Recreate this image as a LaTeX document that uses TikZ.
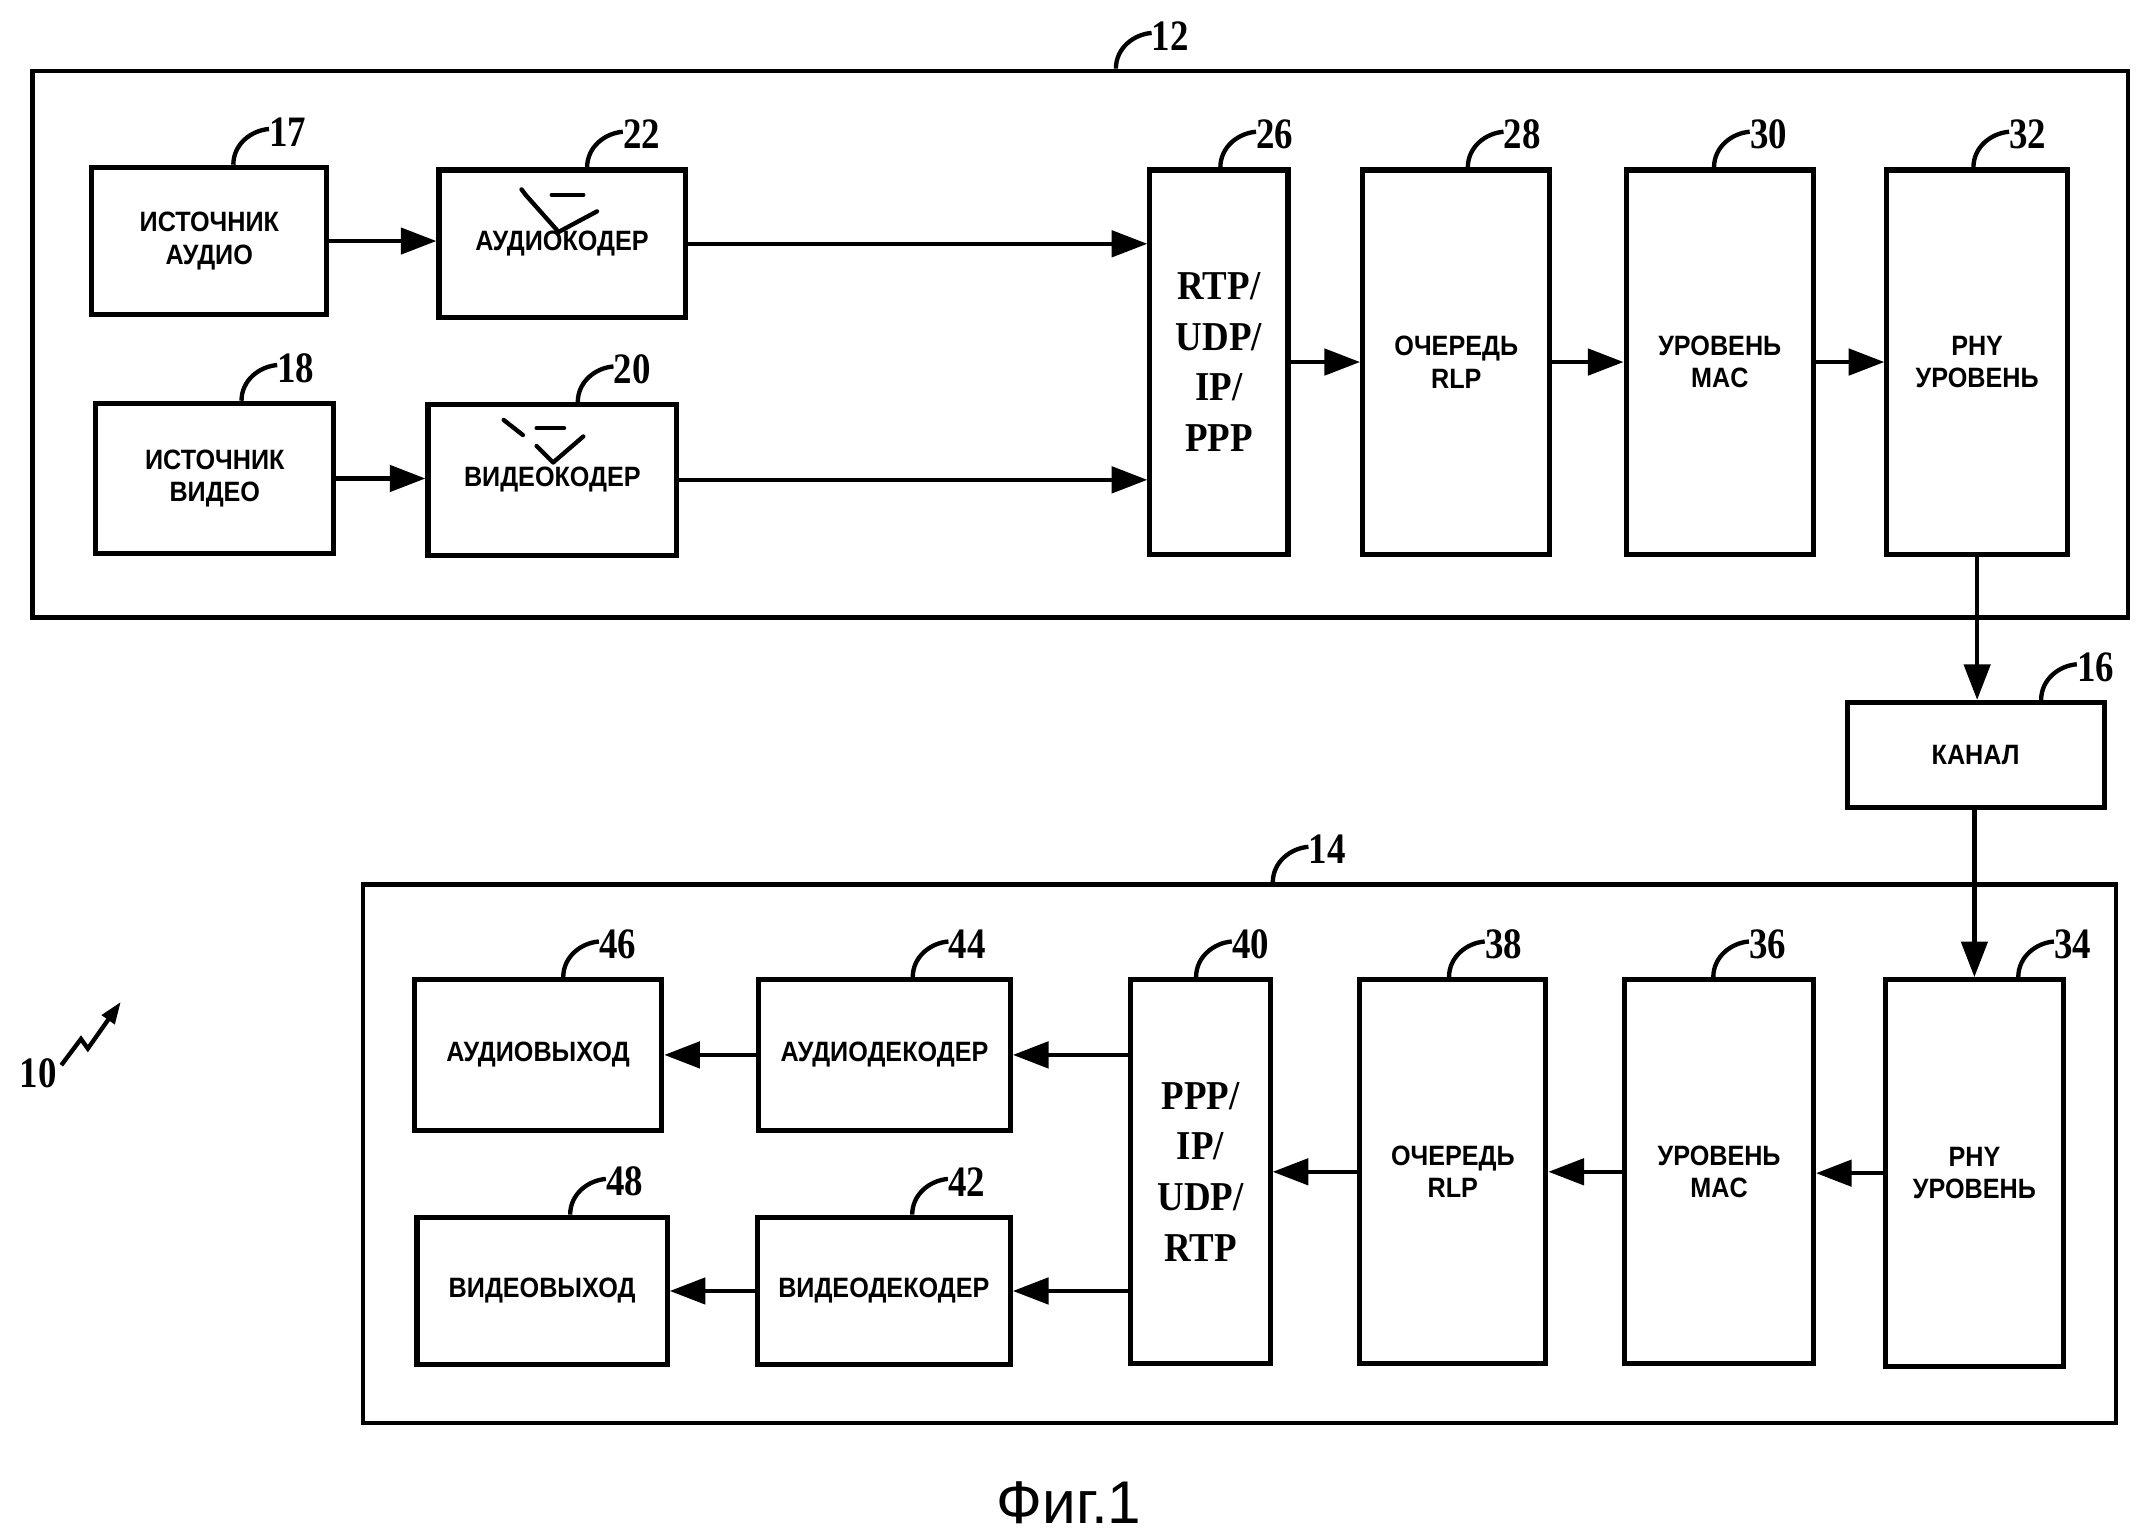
\documentclass[tikz,border=0pt]{standalone}
\usepackage{fontspec}
\setmainfont{Liberation Serif}
\setsansfont{Liberation Sans}
\newfontfamily\boxfont[FakeStretch=0.9]{Liberation Sans}
\newfontfamily\numfont[FakeStretch=0.85]{Liberation Serif}
\newfontfamily\layfont[FakeStretch=0.9]{Liberation Serif}
\usetikzlibrary{arrows.meta,calc}
\tikzset{
  blk/.style={draw, line width=2.1pt, inner sep=0pt, align=center,
    font=\boxfont\bfseries\fontsize{11.6}{13.5}\selectfont},
  serifblk/.style={font=\layfont\bfseries\fontsize{17}{21}\selectfont},
  outerbox/.style={line width=1.8pt},
  arr/.style={line width=1.9pt, -{Triangle[length=0.52cm,width=0.38cm]}},
  numl/.style={inner sep=0.5pt, font=\numfont\bfseries\fontsize{18}{20}\selectfont},
  hookl/.style={line width=1.8pt},
  corrmark/.style={line width=1.8pt, line cap=round, line join=round},
}
\newcommand\bx[7][]{\node[blk, #1, anchor=north west,
  minimum width={(#5-#3)*0.56693pt}, minimum height={(#6-#4)*0.56693pt}] (#2) at (#3,#4) {#7};}
\newcommand\numlab[4]{%
  \coordinate (#4h) at ($(#1.north west)!#2!(#1.north east)$);
  \node[numl, anchor=west] (#4) at ($(#4h)+(25,-24)$) {#3};
  \draw[hookl] (#4h) .. controls ($(#4h)+(0,-15)$) and ($(#4.west)+(-12,-1)$) .. ($(#4.west)+(1,-2)$);}
\begin{document}
\begin{tikzpicture}[x=0.02cm,y=-0.02cm]
\useasboundingbox (0,0) rectangle (1568,1119);
% outer boxes
\bx[outerbox]{b12}{22}{50}{1555}{450}{}
\bx[outerbox]{b14}{263}{643}{1545}{1037}{}
% transmitter
\bx{b17}{65}{120}{237}{228}{ИСТОЧНИК\\АУДИО}
\bx{b22}{318}{122}{498}{230}{АУДИОКОДЕР}
\bx{b18}{68}{292}{242}{402}{ИСТОЧНИК\\ВИДЕО}
\bx{b20}{310}{293}{492}{403}{ВИДЕОКОДЕР}
\bx[serifblk]{b26}{836}{122}{937}{403}{RTP/\\UDP/\\IP/\\PPP}
\bx{b28}{991}{122}{1128}{403}{ОЧЕРЕДЬ\\RLP}
\bx{b30}{1183}{122}{1320}{403}{УРОВЕНЬ\\MAC}
\bx{b32}{1373}{122}{1505}{403}{PHY\\УРОВЕНЬ}
% channel
\bx{b16}{1344}{510}{1532}{587}{КАНАЛ}
% receiver
\bx{b46}{300}{712}{481}{822}{АУДИОВЫХОД}
\bx{b44}{551}{712}{735}{822}{АУДИОДЕКОДЕР}
\bx{b48}{302}{885}{485}{993}{ВИДЕОВЫХОД}
\bx{b42}{550}{885}{735}{993}{ВИДЕОДЕКОДЕР}
\bx[serifblk]{b40}{822}{712}{924}{993}{PPP/\\IP/\\UDP/\\RTP}
\bx{b38}{989}{712}{1125}{993}{ОЧЕРЕДЬ\\RLP}
\bx{b36}{1182}{712}{1320}{993}{УРОВЕНЬ\\MAC}
\bx{b34}{1372}{712}{1502}{995}{PHY\\УРОВЕНЬ}
% connectors
\draw[arr] (b17.east) -- (b17.east -| b22.west);
\draw[arr] (b18.east) -- (b18.east -| b20.west);
\draw[arr] (b22.east) -- (b22.east -| b26.west);
\draw[arr] (b20.east) -- (b20.east -| b26.west);
\draw[arr] (b26.east) -- (b26.east -| b28.west);
\draw[arr] (b28.east) -- (b28.east -| b30.west);
\draw[arr] (b30.east) -- (b30.east -| b32.west);
\draw[arr] (b32.south) -- (b32.south |- b16.north);
\draw[arr] (b34.north |- b16.south) -- (b34.north);
\draw[arr] (b34.west) -- (b34.west -| b36.east);
\draw[arr] (b36.west) -- (b36.west -| b38.east);
\draw[arr] (b38.west) -- (b38.west -| b40.east);
\draw[arr] (b40.west |- b44.east) -- (b44.east);
\draw[arr] (b40.west |- b42.east) -- (b42.east);
\draw[arr] (b44.west) -- (b44.west -| b46.east);
\draw[arr] (b42.west) -- (b42.west -| b48.east);
% reference numerals
\numlab{b12}{0.517}{12}{n12}
\numlab{b14}{0.519}{14}{n14}
\numlab{b16}{0.75}{16}{n16}
\numlab{b17}{0.6}{17}{n17}
\numlab{b22}{0.6}{22}{n22}
\numlab{b18}{0.61}{18}{n18}
\numlab{b20}{0.6}{20}{n20}
\numlab{b26}{0.51}{26}{n26}
\numlab{b28}{0.56}{28}{n28}
\numlab{b30}{0.47}{30}{n30}
\numlab{b32}{0.48}{32}{n32}
\numlab{b46}{0.6}{46}{n46}
\numlab{b44}{0.61}{44}{n44}
\numlab{b48}{0.61}{48}{n48}
\numlab{b42}{0.61}{42}{n42}
\numlab{b40}{0.47}{40}{n40}
\numlab{b38}{0.48}{38}{n38}
\numlab{b36}{0.47}{36}{n36}
\numlab{b34}{0.74}{34}{n34}
% correction marks
\draw[corrmark] (380,138) -- (383,142) -- (407,169) -- (435,154);
\draw[corrmark] (402,142) -- (425,142);
\draw[corrmark] (367,306) -- (381,317);
\draw[corrmark] (391,312) -- (411,312);
\draw[corrmark] (391,325) -- (403,337) -- (425,318);
% system label
\node[numl] (n10) at (28,782) {10};
\coordinate (z1) at (59,757);
\coordinate (z2) at (64,764);
\coordinate (z3) at (88,730);
\draw[line width=1.8pt, -{Triangle[length=0.32cm,width=0.22cm]}] ($(n10.north east)+(2,6)$) -- (z1) -- (z2) -- (z3);
% figure caption
\node[font=\sffamily\fontsize{25}{28}\selectfont] (fig) at (779,1095) {Фиг.1};
\end{tikzpicture}
\end{document}
